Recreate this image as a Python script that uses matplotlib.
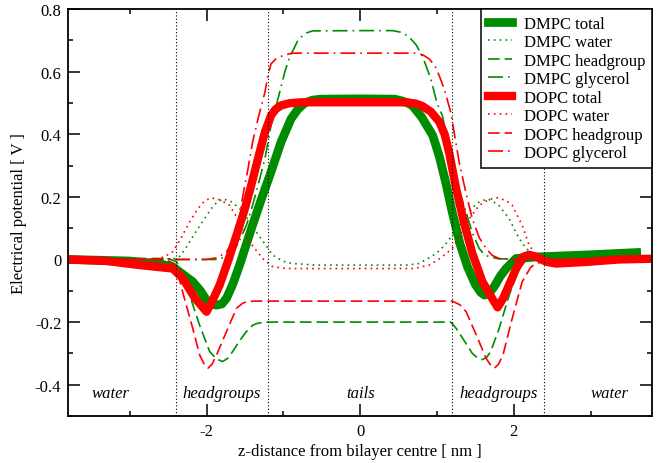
import matplotlib
matplotlib.use("Agg")
import matplotlib.pyplot as plt
from matplotlib.ticker import MultipleLocator

plt.rcParams["font.family"] = ["Liberation Serif", "DejaVu Serif"]
plt.rcParams["axes.unicode_minus"] = False

# ---- data (z in nm, potential in V) ----
dmpc_total_z = [-3.8, -3.0, -2.6, -2.44, -2.35, -2.18, -2.08, -2.0, -1.93, -1.87, -1.80, -1.74,
                -1.66, -1.57, -1.48, -1.40, -1.29, -1.16, -1.03, -0.90, -0.81, -0.72, -0.62,
                -0.51, 0.0, 0.45, 0.55, 0.62, 0.685, 0.80, 0.945, 1.03, 1.12, 1.20, 1.30,
                1.40, 1.50, 1.57, 1.62, 1.68, 1.75, 1.82, 1.90, 2.03, 2.3, 3.0, 3.6]
dmpc_total_v = [0.0, -0.005, -0.015, -0.023, -0.04, -0.071, -0.10, -0.13, -0.143, -0.146, -0.142, -0.124,
                -0.08, -0.018, 0.05, 0.11, 0.19, 0.28, 0.375, 0.449, 0.48, 0.500, 0.509,
                0.512, 0.513, 0.512, 0.506, 0.500, 0.49, 0.455, 0.396, 0.33, 0.24, 0.15, 0.05,
                -0.025, -0.08, -0.105, -0.114, -0.108, -0.085, -0.055, -0.029, 0.003, 0.008, 0.015, 0.022]

dopc_total_z = [-3.8, -3.3, -2.87, -2.44, -2.31, -2.15, -2.0, -1.92, -1.83, -1.72, -1.61, -1.50,
                -1.42, -1.33, -1.24, -1.16, -1.10, -1.03, -0.92, -0.77, 0.0, 0.6, 0.72, 0.81,
                0.92, 1.03, 1.10, 1.16, 1.25, 1.35, 1.46, 1.59, 1.72, 1.79, 1.86, 1.92, 2.03,
                2.12, 2.20, 2.3, 2.42, 2.55, 2.94, 3.37, 3.75]
dopc_total_v = [0.0, -0.005, -0.018, -0.029, -0.06, -0.124, -0.167, -0.13, -0.082, -0.005, 0.077, 0.163,
                0.235, 0.322, 0.407, 0.46, 0.48, 0.492, 0.499, 0.502, 0.502, 0.502, 0.498, 0.49,
                0.472, 0.44, 0.40, 0.34, 0.226, 0.12, 0.02, -0.07, -0.125, -0.153, -0.125, -0.092, -0.03,
                0.008, 0.015, 0.008, -0.007, -0.013, -0.008, 0.0, 0.002]

dmpc_water_z = [-3.8, -2.6, -2.42, -2.35, -2.26, -2.11, -2.0, -1.90, -1.79, -1.68, -1.57, -1.48,
                -1.40, -1.27, -1.14, -1.0, -0.88, -0.57, 0.0, 0.6, 0.77, 0.99, 1.10, 1.20,
                1.38, 1.52, 1.66, 1.80, 1.94, 2.07, 2.16, 2.3, 2.5, 3.6]
dmpc_water_v = [0.0, 0.0, 0.003, 0.01, 0.04, 0.10, 0.14, 0.175, 0.194, 0.185, 0.163, 0.135,
                0.104, 0.06, 0.014, -0.006, -0.013, -0.018, -0.018, -0.018, -0.013, 0.019, 0.045, 0.077,
                0.14, 0.18, 0.194, 0.175, 0.13, 0.067, 0.035, 0.01, 0.0, 0.0]

dopc_water_z = [-3.8, -2.7, -2.55, -2.44, -2.35, -2.22, -2.11, -2.02, -1.94, -1.82, -1.70, -1.57,
                -1.44, -1.27, -1.14, -1.0, -0.9, 0.0, 0.7, 0.9, 1.05, 1.20, 1.42, 1.55, 1.68,
                1.79, 1.90, 1.98, 2.11, 2.20, 2.29, 2.45, 3.75]
dopc_water_v = [0.0, 0.0, 0.008, 0.025, 0.06, 0.12, 0.163, 0.188, 0.197, 0.19, 0.173, 0.12,
                0.056, 0.003, -0.023, -0.028, -0.029, -0.029, -0.029, -0.018, 0.005, 0.035, 0.13, 0.173, 0.192,
                0.197, 0.188, 0.173, 0.109, 0.046, 0.014, 0.0, 0.0]

dmpc_head_z = [-3.8, -2.5, -2.39, -2.30, -2.22, -2.09, -1.96, -1.87, -1.79, -1.72, -1.66, -1.57,
               -1.48, -1.40, -1.35, -1.25, 0.0, 1.18, 1.25, 1.33, 1.46, 1.53, 1.59, 1.65, 1.70,
               1.81, 1.94, 2.07, 2.2, 2.5, 3.6]
dmpc_head_v = [0.003, 0.003, -0.007, -0.06, -0.114, -0.21, -0.294, -0.318, -0.326, -0.315, -0.294, -0.26,
               -0.23, -0.21, -0.205, -0.2, -0.2, -0.2, -0.22, -0.25, -0.30, -0.315, -0.32, -0.312, -0.294,
               -0.22, -0.114, -0.029, 0.009, 0.012, 0.015]

dopc_head_z = [-3.8, -2.55, -2.45, -2.39, -2.30, -2.18, -2.09, -2.03, -1.98, -1.93, -1.87, -1.74,
               -1.61, -1.53, -1.48, -1.38, 0.0, 1.2, 1.30, 1.38, 1.51, 1.64, 1.70, 1.75, 1.80,
               1.86, 1.98, 2.11, 2.22, 2.29, 2.5, 3.75]
dopc_head_v = [0.0, 0.0, -0.01, -0.029, -0.114, -0.22, -0.305, -0.335, -0.347, -0.335, -0.305, -0.23,
               -0.156, -0.14, -0.135, -0.133, -0.133, -0.133, -0.145, -0.167, -0.24, -0.316, -0.338, -0.347, -0.335,
               -0.305, -0.188, -0.071, -0.025, -0.013, 0.0, 0.0]

dmpc_gly_z = [-3.8, -1.85, -1.74, -1.66, -1.59, -1.48, -1.40, -1.33, -1.24, -1.16, -1.07, -0.98,
              -0.92, -0.81, -0.72, -0.62, 0.0, 0.42, 0.55, 0.64, 0.73, 0.81, 0.92, 1.0, 1.07,
              1.13, 1.2, 1.29, 1.38, 1.46, 1.55, 1.62, 1.68, 1.8, 3.6]
dmpc_gly_v = [0.0, 0.0, 0.01, 0.025, 0.05, 0.11, 0.173, 0.237, 0.322, 0.428, 0.513, 0.60,
              0.645, 0.70, 0.722, 0.730, 0.731, 0.731, 0.725, 0.71, 0.685, 0.65, 0.577, 0.50, 0.46,
              0.39, 0.31, 0.22, 0.15, 0.085, 0.035, 0.015, 0.009, 0.002, 0.0]

dopc_gly_z = [-3.8, -2.0, -1.85, -1.74, -1.66, -1.59, -1.53, -1.46, -1.40, -1.33, -1.24, -1.20,
              -1.16, -1.10, -1.0, -0.88, 0.0, 0.73, 0.82, 0.9, 0.97, 1.03, 1.10, 1.18, 1.29,
              1.38, 1.46, 1.55, 1.64, 1.72, 1.81, 2.0, 3.75]
dopc_gly_v = [0.0, 0.0, 0.006, 0.025, 0.056, 0.10, 0.20, 0.29, 0.375, 0.449, 0.534, 0.59,
              0.625, 0.64, 0.652, 0.659, 0.659, 0.659, 0.653, 0.64, 0.62, 0.587, 0.54, 0.47, 0.31,
              0.21, 0.13, 0.07, 0.035, 0.013, 0.003, 0.0, 0.0]

region_x = [-3.25, -1.8, 0.0, 1.8, 3.25]
region_names = ["water", "headgroups", "tails", "headgroups", "water"]
boundaries = [-2.4, -1.2, 1.2, 2.4]

green = "#008c00"
red = "#ff0000"

fig = plt.figure(figsize=(6.71, 4.64), dpi=100)
ax = fig.add_axes([68.3 / 671, 1 - 417 / 464, (652 - 68.3) / 671, (417 - 10) / 464])

dot = (0, (1, 2.5))
dash = (0, (7, 3))
dashdot = (0, (9, 3, 1, 3))

ax.plot(dmpc_total_z, dmpc_total_v, color=green, lw=6.3, solid_joinstyle="round", label="DMPC total")
ax.plot(dmpc_water_z, dmpc_water_v, color=green, lw=1.2, ls=dot, label="DMPC water")
ax.plot(dmpc_head_z, dmpc_head_v, color=green, lw=1.2, ls=dash, label="DMPC headgroup")
ax.plot(dmpc_gly_z, dmpc_gly_v, color=green, lw=1.2, ls=dashdot, label="DMPC glycerol")
ax.plot(dopc_total_z, dopc_total_v, color=red, lw=6.0, solid_joinstyle="round", label="DOPC total")
ax.plot(dopc_water_z, dopc_water_v, color=red, lw=1.2, ls=dot, label="DOPC water")
ax.plot(dopc_head_z, dopc_head_v, color=red, lw=1.2, ls=dash, label="DOPC headgroup")
ax.plot(dopc_gly_z, dopc_gly_v, color=red, lw=1.2, ls=dashdot, label="DOPC glycerol")

for b in boundaries:
    ax.axvline(b, color="black", lw=0.8, ls=(0, (1, 2)))

for x, name in zip(region_x, region_names):
    ax.text(x, -0.427, name, style="italic", fontsize=12, ha="center", va="center")

ax.set_xlim(-3.8, 3.8)
ax.set_ylim(-0.5, 0.8)
ax.xaxis.set_major_locator(MultipleLocator(2))
ax.xaxis.set_minor_locator(MultipleLocator(1))
ax.yaxis.set_major_locator(MultipleLocator(0.2))
ax.yaxis.set_minor_locator(MultipleLocator(0.1))
ax.set_xticks([-2, 0, 2])
ax.set_xticklabels(["-2", "0", "2"])
ax.set_yticks([-0.4, -0.2, 0, 0.2, 0.4, 0.6, 0.8])
ax.set_yticklabels(["-0.4", "-0.2", "0", "0.2", "0.4", "0.6", "0.8"])
ax.tick_params(which="both", direction="in", top=True, right=True, labelsize=12, width=1.1)
ax.tick_params(which="major", length=8.5, pad=5)
ax.tick_params(which="minor", length=3.8)
for s in ax.spines.values():
    s.set_linewidth(1.3)

ax.set_xlabel("z-distance from bilayer centre [ nm ]", fontsize=12, labelpad=3)
ax.set_ylabel("Electrical potential [ V ]", fontsize=12, labelpad=6)

leg = ax.legend(loc="upper right", bbox_to_anchor=(1.0, 1.0), fontsize=12, frameon=True,
                fancybox=False, edgecolor="black", framealpha=1, borderaxespad=0,
                handlelength=1.45, handletextpad=0.7, labelspacing=0.15, borderpad=0.4)
leg.get_frame().set_linewidth(1.1)

fig.savefig("out.png", dpi=100)
